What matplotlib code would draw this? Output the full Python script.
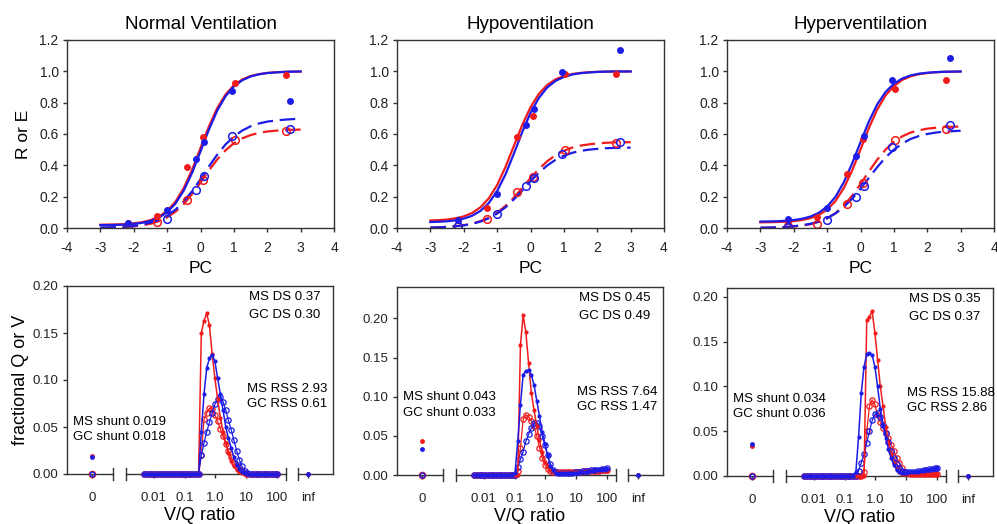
import numpy as np
import matplotlib
matplotlib.use("Agg")
import matplotlib.pyplot as plt
import matplotlib.transforms as mtransforms

plt.rcParams['font.family'] = ['Liberation Sans', 'DejaVu Sans']
plt.rcParams['axes.unicode_minus'] = False

RED = '#f01c1c'
BLUE = '#1c1ce6'

titles = ['Normal Ventilation', 'Hypoventilation', 'Hyperventilation']

# ---- top row: retention (R, filled) and excretion (E, open) vs log partition coefficient
pc_ms = [-2.16, -1.29, -0.41, 0.08, 1.03, 2.55]
pc_gc = [-2.16, -1.01, -0.14, 0.10, 0.95, 2.67]

r_ms = [[0.035, 0.079, 0.39, 0.58, 0.928, 0.977],
        [0.050, 0.127, 0.582, 0.717, 0.984, 0.982],
        [0.045, 0.070, 0.345, 0.57, 0.89, 0.943]]
r_gc = [[0.033, 0.113, 0.44, 0.552, 0.877, 0.813],
        [0.053, 0.22, 0.66, 0.762, 0.993, 1.137],
        [0.055, 0.127, 0.462, 0.589, 0.943, 1.088]]
e_ms = [[0.010, 0.038, 0.18, 0.308, 0.563, 0.62],
        [0.010, 0.060, 0.23, 0.328, 0.497, 0.54],
        [0.012, 0.027, 0.155, 0.286, 0.56, 0.632]]
e_gc = [[0.012, 0.059, 0.24, 0.33, 0.588, 0.63],
        [0.010, 0.089, 0.269, 0.317, 0.47, 0.548],
        [0.006, 0.050, 0.20, 0.27, 0.52, 0.657]]

# fitted curves read at PC = -3, -2.75, ..., 3
pc_fit = np.arange(-3, 3.001, 0.25)
r_ms_fit = [
    [0.021, 0.022, 0.023, 0.025, 0.030, 0.037, 0.050, 0.072, 0.109, 0.168, 0.255, 0.373, 0.510,
     0.647, 0.765, 0.852, 0.911, 0.948, 0.970, 0.982, 0.990, 0.994, 0.997, 0.998, 0.999],
    [0.048, 0.050, 0.054, 0.062, 0.074, 0.096, 0.132, 0.189, 0.274, 0.389, 0.523, 0.656, 0.771,
     0.856, 0.913, 0.949, 0.970, 0.983, 0.990, 0.994, 0.997, 0.998, 0.999, 0.999, 1.000],
    [0.036, 0.037, 0.038, 0.040, 0.044, 0.051, 0.063, 0.083, 0.117, 0.172, 0.255, 0.367, 0.501,
     0.637, 0.756, 0.846, 0.906, 0.945, 0.968, 0.982, 0.989, 0.994, 0.997, 0.998, 0.999]]
r_gc_fit = [
    [0.018, 0.019, 0.020, 0.022, 0.026, 0.033, 0.045, 0.066, 0.100, 0.156, 0.240, 0.353, 0.489,
     0.627, 0.749, 0.841, 0.904, 0.943, 0.967, 0.981, 0.989, 0.993, 0.996, 0.998, 0.999],
    [0.038, 0.040, 0.043, 0.049, 0.060, 0.078, 0.109, 0.159, 0.236, 0.342, 0.473, 0.611, 0.735,
     0.830, 0.897, 0.939, 0.964, 0.980, 0.988, 0.993, 0.996, 0.998, 0.999, 0.999, 0.999],
    [0.041, 0.042, 0.043, 0.046, 0.051, 0.059, 0.073, 0.097, 0.137, 0.199, 0.292, 0.412, 0.548,
     0.679, 0.789, 0.868, 0.921, 0.954, 0.974, 0.985, 0.991, 0.995, 0.997, 0.998, 0.999]]
e_ms_fit = [
    [0.0015, 0.0025, 0.004, 0.0065, 0.0106, 0.017, 0.027, 0.043, 0.068, 0.104, 0.153, 0.217, 0.290,
     0.367, 0.437, 0.496, 0.541, 0.572, 0.593, 0.607, 0.616, 0.621, 0.625, 0.627, 0.628],
    [0.003, 0.0047, 0.0074, 0.0117, 0.018, 0.028, 0.044, 0.066, 0.098, 0.141, 0.194, 0.255, 0.318,
     0.376, 0.426, 0.465, 0.493, 0.513, 0.526, 0.534, 0.540, 0.544, 0.546, 0.547, 0.548],
    [0.0013, 0.0021, 0.0035, 0.0057, 0.0093, 0.015, 0.024, 0.039, 0.062, 0.095, 0.143, 0.206, 0.280,
     0.360, 0.436, 0.500, 0.550, 0.585, 0.609, 0.624, 0.634, 0.640, 0.644, 0.646, 0.648]]
e_gc_fit = [
    [0.0022, 0.0035, 0.0056, 0.0088, 0.0138, 0.0217, 0.034, 0.052, 0.079, 0.117, 0.170, 0.235, 0.311,
     0.392, 0.468, 0.533, 0.584, 0.622, 0.649, 0.667, 0.679, 0.686, 0.691, 0.695, 0.697],
    [0.0028, 0.0044, 0.0069, 0.011, 0.017, 0.026, 0.041, 0.062, 0.092, 0.132, 0.182, 0.239, 0.298,
     0.352, 0.399, 0.435, 0.461, 0.480, 0.492, 0.500, 0.505, 0.509, 0.511, 0.512, 0.513],
    [0.0019, 0.003, 0.0046, 0.0073, 0.0113, 0.0175, 0.027, 0.041, 0.062, 0.093, 0.134, 0.187, 0.250,
     0.320, 0.388, 0.450, 0.500, 0.539, 0.568, 0.587, 0.600, 0.609, 0.615, 0.618, 0.621]]

# ---- bottom row: V/Q distributions, 50 MIGET compartments 0.005 .. 100
vq = np.logspace(np.log10(0.005), 2, 50)

q_ms = [
    [0.0] * 20 + [0.0, 0.15, 0.163, 0.171, 0.158, 0.128, 0.102, 0.08, 0.06, 0.045, 0.033, 0.022,
                  0.014, 0.008, 0.004, 0.002, 0.001] + [0.0] * 13,
    [0.0] * 16 + [0.0, 0.166, 0.204, 0.182, 0.143, 0.105, 0.083, 0.062, 0.045, 0.029, 0.017, 0.011,
                  0.007, 0.005] + [0.004] * 11 + [0.005] * 9,
    [0.0] * 22 + [0.0, 0.174, 0.178, 0.184, 0.16, 0.13, 0.1, 0.078, 0.055, 0.038, 0.025, 0.015,
                  0.008, 0.004] + [0.002] * 14]
q_gc = [
    [0.0] * 20 + [0.0, 0.045, 0.085, 0.113, 0.123, 0.127, 0.12, 0.102, 0.085, 0.068, 0.05, 0.038,
                  0.028, 0.018, 0.01, 0.005, 0.002, 0.001] + [0.0] * 12,
    [0.0] * 15 + [0.003, 0.043, 0.09, 0.128, 0.133, 0.134, 0.128, 0.115, 0.095, 0.075, 0.055, 0.04,
                  0.025, 0.012, 0.006, 0.003,
                  0.002, 0.002, 0.002, 0.002, 0.003, 0.003, 0.003, 0.003, 0.004, 0.004, 0.004,
                  0.005, 0.005, 0.005, 0.006, 0.006, 0.007, 0.007, 0.008],
    [0.0] * 19 + [0.005, 0.044, 0.093, 0.122, 0.136, 0.137, 0.135, 0.122, 0.1, 0.075, 0.057, 0.043,
                  0.03, 0.02, 0.012, 0.007, 0.004,
                  0.003, 0.003, 0.003, 0.004, 0.004, 0.005, 0.005, 0.006, 0.006, 0.007, 0.007,
                  0.008, 0.008, 0.009]]
v_ms = [
    [0.0] * 20 + [0.0, 0.02, 0.058, 0.065, 0.07, 0.069, 0.063, 0.056, 0.048, 0.04, 0.032, 0.025,
                  0.018, 0.012, 0.008, 0.005, 0.003, 0.001] + [0.0] * 12,
    [0.0] * 16 + [0.005, 0.035, 0.071, 0.077, 0.074, 0.069, 0.062, 0.05, 0.035, 0.022, 0.013, 0.008,
                  0.005] + [0.004] * 11 + [0.005] * 7 + [0.006] * 3,
    [0.0] * 22 + [0.005, 0.05, 0.078, 0.085, 0.08, 0.068, 0.06, 0.054, 0.048, 0.042, 0.035, 0.028,
                  0.02, 0.014, 0.009, 0.005, 0.003] + [0.002] * 11]
v_gc = [
    [0.0] * 20 + [0.0, 0.02, 0.033, 0.045, 0.055, 0.065, 0.074, 0.08, 0.082, 0.077, 0.068, 0.057,
                  0.047, 0.036, 0.025, 0.015, 0.008, 0.003, 0.001] + [0.0] * 11,
    [0.0] * 15 + [0.0, 0.01, 0.02, 0.03, 0.043, 0.052, 0.06, 0.066, 0.067, 0.062, 0.05, 0.038,
                  0.025, 0.014, 0.007, 0.004,
                  0.003, 0.003, 0.003, 0.003, 0.003, 0.003, 0.004, 0.004, 0.004, 0.005, 0.005,
                  0.005, 0.006, 0.006, 0.007, 0.007, 0.008, 0.008, 0.009],
    [0.0] * 19 + [0.0, 0.006, 0.015, 0.025, 0.037, 0.05, 0.062, 0.069, 0.07, 0.066, 0.057, 0.048,
                  0.038, 0.028, 0.02, 0.013, 0.009, 0.006,
                  0.004, 0.004, 0.004, 0.005, 0.005, 0.006, 0.006, 0.007, 0.007, 0.008, 0.008,
                  0.009, 0.009]]

shunt_ms = [0.019, 0.043, 0.034]
shunt_gc = [0.018, 0.033, 0.036]
ds_ms = [0.37, 0.45, 0.35]
ds_gc = [0.30, 0.49, 0.37]
rss_ms = [2.93, 7.64, 15.88]
rss_gc = [0.61, 1.47, 2.86]
shunt_ms_txt = ['0.019', '0.043', '0.034']
shunt_gc_txt = ['0.018', '0.033', '0.036']
q_ylim = [0.20, 0.24, 0.21]

vq_ticks = [0.01, 0.1, 1.0, 10, 100]
vq_labels = ['0.01', '0.1', '1.0', '10', '100']
X_ZERO, X_INF = -4.0, 3.0          # where V/Q = 0 and V/Q = inf are drawn
BREAKS = [(-3.31, -2.89), (2.27, 2.66)]

fig = plt.figure(figsize=(9.97, 5.24), dpi=100)
W, H = 997, 524

def px_axes(left, top, right, bottom):
    return fig.add_axes([left / W, 1 - bottom / H, (right - left) / W, (bottom - top) / H])

top_lefts = [67, 397, 727]
bot_tops = [286, 287, 288]
AXC = '#333333'
DASH = (0, (7, 3))

for k in range(3):
    # ---------------- top panel
    ax = px_axes(top_lefts[k], 40, top_lefts[k] + 267, 228)
    ax.plot(pc_fit, r_ms_fit[k], color=RED, lw=1.6)
    ax.plot(pc_fit, e_ms_fit[k], color=RED, lw=1.6, ls=DASH)
    ax.plot(pc_fit, r_gc_fit[k], color=BLUE, lw=1.6)
    ax.plot(pc_fit, e_gc_fit[k], color=BLUE, lw=1.6, ls=DASH)
    ax.plot(pc_ms, r_ms[k], 'o', color=RED, ms=5, mec='none')
    ax.plot(pc_ms, e_ms[k], 'o', mfc='none', mec=RED, ms=5.5, mew=1.1)
    ax.plot(pc_gc, r_gc[k], 'o', color=BLUE, ms=5, mec='none')
    ax.plot(pc_gc, e_gc[k], 'o', mfc='none', mec=BLUE, ms=5.5, mew=1.1)
    ax.set_xlim(-4, 4)
    ax.set_ylim(0, 1.2)
    ax.set_xticks(range(-4, 5))
    ax.set_yticks(np.arange(0, 1.21, 0.2))
    ax.set_yticklabels([f'{v:.1f}' for v in np.arange(0, 1.21, 0.2)])
    ax.tick_params(direction='out', length=3, width=1, labelsize=10, colors=AXC, labelcolor='#222222')
    ax.tick_params(axis='x', pad=6)
    ax.tick_params(axis='y', pad=3)
    for s in ax.spines.values():
        s.set_linewidth(1.0)
        s.set_color(AXC)
    ax.set_title(titles[k], fontsize=13.5, pad=8)
    ax.set_xlabel('PC', fontsize=12.5, labelpad=5)
    if k == 0:
        ax.set_ylabel('R or E', fontsize=12.5, labelpad=6)

    # ---------------- bottom panel
    bx = px_axes(top_lefts[k], bot_tops[k], top_lefts[k] + 266, bot_tops[k] + 188)
    lx = np.log10(vq)
    bx.plot(lx, v_ms[k], '-', color=RED, lw=0.9, marker='o', mfc='none', mec=RED, ms=3.8,
            mew=0.9, clip_on=False)
    bx.plot(lx, v_gc[k], '-', color=BLUE, lw=0.9, marker='o', mfc='none', mec=BLUE, ms=3.8,
            mew=0.9, clip_on=False)
    bx.plot(lx, q_ms[k], '-', color=RED, lw=1.1, marker='o', ms=3.0, mec='none', clip_on=False)
    bx.plot(lx, q_gc[k], '-', color=BLUE, lw=1.1, marker='o', ms=3.0, mec='none', clip_on=False)
    # shunt (V/Q = 0) and V/Q = inf points
    bx.plot([X_ZERO], [0], 'o', mfc='none', mec=RED, ms=4.5, mew=1, clip_on=False)
    bx.plot([X_ZERO], [0], 'o', mfc='none', mec=BLUE, ms=3.5, mew=1, clip_on=False)
    bx.plot([X_ZERO], [shunt_ms[k]], 'o', color=RED, ms=3.5, mec='none', clip_on=False)
    bx.plot([X_ZERO], [shunt_gc[k]], 'o', color=BLUE, ms=3.5, mec='none', clip_on=False)
    bx.plot([X_INF], [0], 'o', color=RED, ms=3.5, mec='none', clip_on=False)
    bx.plot([X_INF], [0], 'o', color=BLUE, ms=3.5, mec='none', clip_on=False)

    bx.set_xlim(-4.8, 3.8)
    bx.set_ylim(0, q_ylim[k])
    bx.set_xticks([X_ZERO] + list(np.log10(vq_ticks)) + [X_INF])
    bx.set_xticklabels(['0'] + vq_labels + ['inf'])
    bx.set_yticks(np.arange(0, 0.201, 0.05))
    bx.set_yticklabels([f'{v:.2f}' for v in np.arange(0, 0.201, 0.05)])
    bx.tick_params(direction='out', length=3, width=1, labelsize=9.5, colors=AXC, labelcolor='#222222')
    bx.tick_params(axis='x', pad=10)
    for s in bx.spines.values():
        s.set_linewidth(1.0)
        s.set_color(AXC)
    bx.spines['bottom'].set_visible(False)
    # broken bottom axis
    tr = mtransforms.blended_transform_factory(bx.transData, bx.transAxes)
    edges = [-4.8, BREAKS[0][0], BREAKS[0][1], BREAKS[1][0], BREAKS[1][1], 3.8]
    for a, b in zip(edges[0::2], edges[1::2]):
        bx.plot([a, b], [0, 0], color=AXC, lw=1.0, transform=tr, clip_on=False, zorder=1)
    for xb in edges[1:-1]:
        bx.plot([xb, xb], [-0.03, 0.03], color=AXC, lw=1.0, transform=tr, clip_on=False)

    fs = 9.5
    bx.text(0.683, 0.943, f'MS DS {ds_ms[k]:.2f}', transform=bx.transAxes, fontsize=fs, va='center')
    bx.text(0.683, 0.846, f'GC DS {ds_gc[k]:.2f}', transform=bx.transAxes, fontsize=fs, va='center')
    rss_y = [0.45, 0.44, 0.44][k]
    bx.text(0.678, rss_y, f'MS RSS {rss_ms[k]:.2f}', transform=bx.transAxes, fontsize=fs, va='center')
    bx.text(0.678, rss_y - 0.078, f'GC RSS {rss_gc[k]:.2f}', transform=bx.transAxes, fontsize=fs,
            va='center')
    sh_y = [0.278, 0.413, 0.41][k]
    bx.text(0.022, sh_y, f'MS shunt {shunt_ms_txt[k]}', transform=bx.transAxes, fontsize=fs,
            va='center')
    bx.text(0.022, sh_y - 0.082, f'GC shunt {shunt_gc_txt[k]}', transform=bx.transAxes, fontsize=fs,
            va='center')
    bx.set_xlabel('V/Q ratio', fontsize=13, labelpad=2)
    if k == 0:
        bx.set_ylabel('fractional Q or V', fontsize=13, labelpad=2)

fig.savefig('out.png', dpi=100)
